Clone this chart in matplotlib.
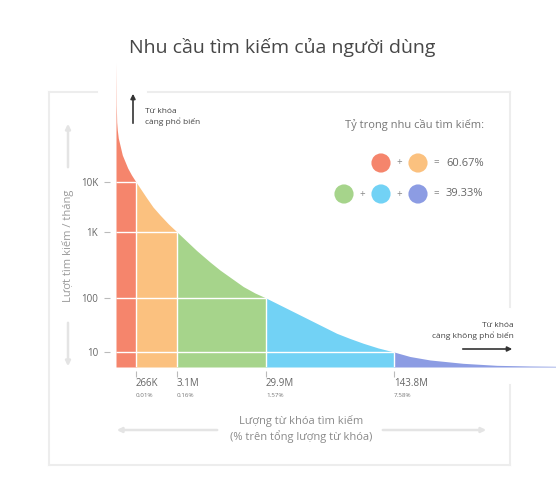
import matplotlib
matplotlib.use('Agg')
import matplotlib.pyplot as plt
import matplotlib.transforms as mtransforms
import numpy as np

plt.rcParams['font.family'] = ['Open Sans', 'DejaVu Sans']

# ----- du lieu doc tu hinh -----
so_tu_khoa = [0, 2.66e3, 4.0e3, 9.3e3, 17.3e3, 30.6e3, 83.8e3, 155.6e3, 206e3, 266e3,
              1.006e6, 1.441e6, 1.925e6, 2.512e6, 3.1e6,
              9.03e6, 13.04e6, 16.05e6, 19.66e6, 23.06e6, 26.59e6, 29.9e6,
              48.3e6, 58.4e6, 69.05e6, 92.8e6, 104.6e6, 116.5e6, 129.6e6, 143.8e6,
              317e6, 533.4e6, 890.5e6, 1255e6, 1615.6e6, 1897e6]
luot_tim = [1e6, 369e3, 192e3, 100e3, 73.6e3, 54e3, 28.2e3, 17.1e3, 13.1e3, 10e3,
            4.79e3, 3.16e3, 2.19e3, 1.445e3, 1e3,
            523, 351, 265, 197, 149, 119, 100,
            64.4, 50.6, 39.2, 22.2, 17.8, 14.5, 11.9, 10,
            8.24, 7.10, 6.15, 5.64, 5.48, 5.41]

moc_tu_khoa = [0, 266e3, 3.1e6, 29.9e6, 143.8e6, 1897e6]
moc_luot = [10000, 1000, 100, 10]
nhan_x = ['266K', '3.1M', '29.9M', '143.8M']
nhan_phan_tram = ['0.01%', '0.16%', '1.57%', '7.58%']
nhan_y = ['10K', '1K', '100', '10']
mau = ['#F5856C', '#FBC17F', '#A6D48B', '#72D2F5', '#8C9CE3']
ty_trong = ['60.67%', '39.33%']

# thang do phi tuyen cua infographic (neo theo vi tri cac moc)
y_log_neo = [0.72, 1, 2, 3, 4, 6]
y_vt_neo = [0, 15, 69, 135, 185, 305]
x_neo = [0, 266e3, 3.1e6, 29.9e6, 143.8e6, 1897e6]
x_vt_neo = [0, 20, 61, 150, 278, 440]


def fy(v):
    return np.interp(np.log10(np.clip(v, 1e-9, None)), y_log_neo, y_vt_neo)


def fy_inv(p):
    return 10 ** np.interp(p, y_vt_neo, y_log_neo)


def fx(v):
    return np.interp(v, x_neo, x_vt_neo)


def fx_inv(p):
    return np.interp(p, x_vt_neo, x_neo)


fig = plt.figure(figsize=(5.56, 4.8), dpi=100)
fig.patch.set_facecolor('white')

# lop trang tri (toa do pixel)
ov = fig.add_axes([0, 0, 1, 1], zorder=0)
ov.set_xlim(0, 556)
ov.set_ylim(480, 0)
ov.axis('off')

khung = '#ededed'
ov.plot([49, 49], [92, 465], color=khung, lw=1.5)
ov.plot([49, 510], [465, 465], color=khung, lw=1.5)
ov.plot([510, 510], [92, 307], color=khung, lw=1.5)
ov.plot([510, 510], [385, 465], color=khung, lw=1.5)
ov.plot([49, 97], [92, 92], color=khung, lw=1.5)
ov.plot([148, 510], [92, 92], color=khung, lw=1.5)

mo = '#e4e4e4'
ov.annotate('', xy=(68, 121), xytext=(68, 170),
            arrowprops=dict(arrowstyle='-|>', color=mo, lw=1.8, mutation_scale=7))
ov.annotate('', xy=(68, 369), xytext=(68, 320),
            arrowprops=dict(arrowstyle='-|>', color=mo, lw=1.8, mutation_scale=7))
ov.annotate('', xy=(114, 430), xytext=(220, 430),
            arrowprops=dict(arrowstyle='-|>', color=mo, lw=1.8, mutation_scale=7))
ov.annotate('', xy=(489, 430), xytext=(380, 430),
            arrowprops=dict(arrowstyle='-|>', color=mo, lw=1.8, mutation_scale=7))

ov.text(282, 47, 'Nhu cầu tìm kiếm của người dùng', ha='center', va='center',
        fontsize=14, color='#474747')
ov.text(68, 246, 'Lượt tìm kiếm / tháng', rotation=90, ha='center', va='center',
        fontsize=8, color='#9a9a9a')
ov.text(301, 429, 'Lượng từ khóa tìm kiếm\n(% trên tổng lượng từ khóa)', ha='center',
        va='center', fontsize=8, color='#8a8a8a', linespacing=1.35)

ov.annotate('', xy=(133, 91), xytext=(133, 126),
            arrowprops=dict(arrowstyle='-|>', color='#333333', lw=1.2, mutation_scale=7))
ov.text(145, 117, 'Từ khóa\ncàng phổ biến', ha='left', va='center', fontsize=6,
        color='#444444', linespacing=1.3)
ov.annotate('', xy=(515, 349), xytext=(460, 349),
            arrowprops=dict(arrowstyle='-|>', color='#333333', lw=1.2, mutation_scale=7))
ov.text(514, 331, 'Từ khóa\ncàng không phổ biến', ha='right', va='center', fontsize=6,
        color='#444444', linespacing=1.3)

# chu giai ty trong
ov.text(484, 125, 'Tỷ trọng nhu cầu tìm kiếm:', ha='right', va='center',
        fontsize=8, color='#777777')
hang = [[mau[0], mau[1]], [mau[2], mau[3], mau[4]]]
for i, (nhom, pt) in enumerate(zip(hang, ty_trong)):
    yy = 163 + i * 31
    xs = [418 - 37 * k for k in range(len(nhom))][::-1]
    ov.scatter(xs, [yy] * len(nhom), s=190, c=nhom, edgecolors='none')
    for k in range(len(nhom) - 1):
        ov.text(xs[k] + 18.5, yy, '+', ha='center', va='center', fontsize=7, color='#888888')
    ov.text(436, yy, '=', ha='center', va='center', fontsize=7, color='#888888')
    ov.text(446, yy, pt, ha='left', va='center', fontsize=8, color='#666666')

# ----- bieu do chinh -----
ax = fig.add_axes([116 / 556, 113 / 480, 440 / 556, 305 / 480], zorder=1)
ax.patch.set_alpha(0)
ax.set_xscale('function', functions=(fx, fx_inv))
ax.set_yscale('function', functions=(fy, fy_inv))
y_day = 10 ** y_log_neo[0]
ax.set_xlim(moc_tu_khoa[0], moc_tu_khoa[-1])
ax.set_ylim(y_day, 1e6)

x = np.array(so_tu_khoa)
y = np.array(luot_tim)
for lo, hi, c in zip(moc_tu_khoa[:-1], moc_tu_khoa[1:], mau):
    m = (x >= lo) & (x <= hi)
    ax.fill_between(x[m], y_day, y[m], color=c, lw=0)

for xb, v in zip(moc_tu_khoa[1:-1], moc_luot):
    ax.hlines(v, moc_tu_khoa[0], xb, color='white', lw=1)
    ax.vlines(xb, y_day, v, color='white', lw=1)

for s in ax.spines.values():
    s.set_visible(False)
ax.spines['left'].set_position(('outward', 4))
ax.spines['bottom'].set_position(('outward', 3))
ax.set_yticks(moc_luot)
ax.set_yticklabels(nhan_y)
ax.yaxis.set_minor_locator(matplotlib.ticker.NullLocator())
ax.xaxis.set_minor_locator(matplotlib.ticker.NullLocator())
ax.tick_params(axis='y', length=4, width=0.8, color='#bbbbbb', pad=5,
               labelsize=7, labelcolor='#666666')
ax.set_xticks(moc_tu_khoa[1:-1])
ax.set_xticklabels([])
ax.tick_params(axis='x', length=4, width=0.8, color='#bbbbbb')

tr = mtransforms.blended_transform_factory(ax.transData, ax.transAxes)
for xb, a, b in zip(moc_tu_khoa[1:-1], nhan_x, nhan_phan_tram):
    ax.text(xb, -0.055, a, transform=tr, ha='left', va='center', fontsize=7, color='#666666')
    ax.text(xb, -0.093, b, transform=tr, ha='left', va='center', fontsize=4.5, color='#777777')

fig.savefig('out.png', dpi=100, facecolor='white')
